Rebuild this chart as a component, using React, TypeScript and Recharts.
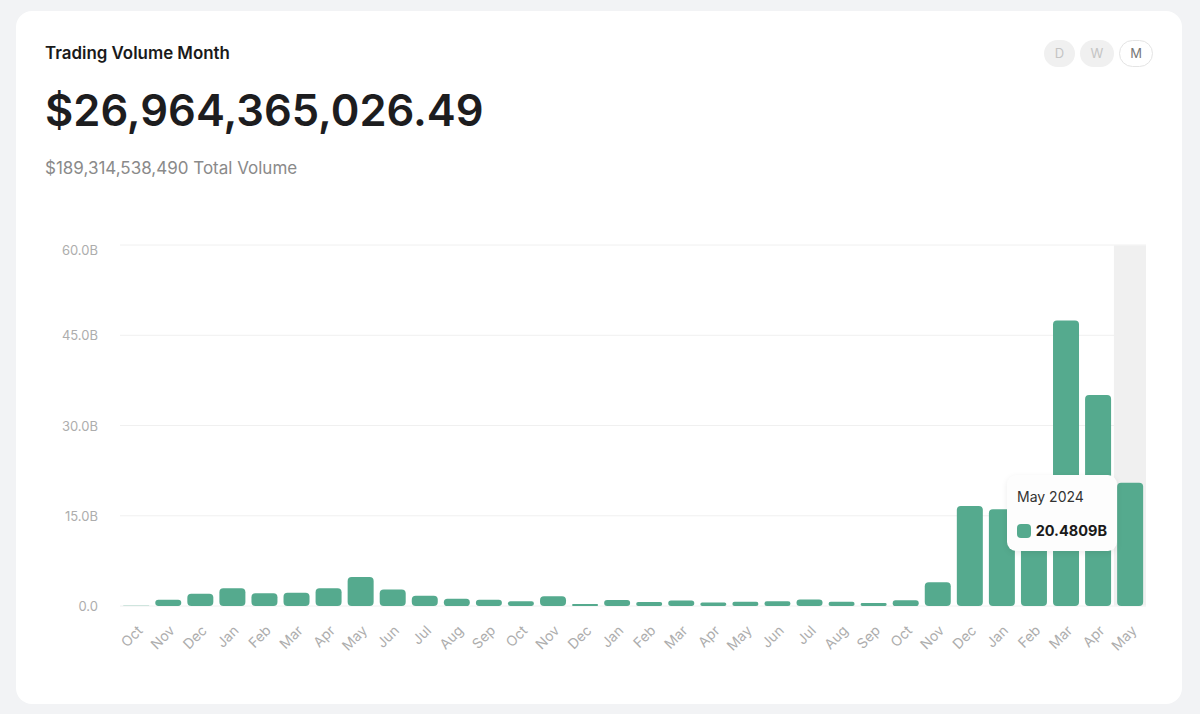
import React from "react";
import { BarChart, Bar, XAxis, YAxis, CartesianGrid, Tooltip } from "recharts";

const months = ["Oct","Nov","Dec","Jan","Feb","Mar","Apr","May","Jun","Jul","Aug","Sep","Oct","Nov","Dec","Jan","Feb","Mar","Apr","May","Jun","Jul","Aug","Sep","Oct","Nov","Dec","Jan","Feb","Mar","Apr","May"];
const years = [2021,2021,2021,2022,2022,2022,2022,2022,2022,2022,2022,2022,2022,2022,2022,2023,2023,2023,2023,2023,2023,2023,2023,2023,2023,2023,2023,2024,2024,2024,2024,2024];
const volumes = [0.05,1.05,2.05,2.95,2.1,2.2,2.95,4.8,2.75,1.7,1.2,1.05,0.8,1.6,0.35,1.0,0.65,0.9,0.6,0.7,0.78,1.1,0.7,0.48,0.95,3.95,16.6,16.06,16.1,47.45,35.05,20.4809];
const yTicks = [0,15,30,45,60];
const ranges = ["D","W","M"];

const data = months.map((m,i)=>({ period:`${m} ${years[i]}`, volume:volumes[i] }));
const FONT = "Inter, sans-serif";
const GREEN = "#55aa8e";

function YTick(props:any){
  const {x,y,payload} = props;
  const dy = payload.value === 60 ? 5 : 0;
  return <text x={x} y={y+dy} dy={5} textAnchor="end" fontFamily={FONT} fontSize={13} fill="#adadad">{payload.value.toFixed(1)+(payload.value===0?"":"B")}</text>;
}
function XTick(props:any){
  const {x,y,payload} = props;
  const ax = x+7.5, ay = y+17.5;
  return <text x={ax} y={ay} textAnchor="end" transform={`rotate(-45 ${ax} ${ay})`} fontFamily={FONT} fontSize={14} fill="#adadad">{String(payload.value).split(" ")[0]}</text>;
}
function Tip({active,payload}:any){
  if(!active||!payload||!payload.length) return null;
  const d = payload[0].payload;
  return <div style={{width:110,height:76,boxSizing:"border-box",background:"#fdfdfd",borderRadius:9,boxShadow:"0 2px 6px rgba(0,0,0,0.08)",padding:"13px 10px",fontFamily:FONT}}>
    <div style={{fontSize:14,lineHeight:"17px",color:"#333"}}>{d.period}</div>
    <div style={{display:"flex",alignItems:"center",marginTop:17}}>
      <span style={{width:14,height:14,borderRadius:4,background:GREEN,marginRight:5}}/>
      <span style={{fontSize:14.5,fontWeight:700,color:"#1a1a1a"}}>{d.volume.toFixed(4)}B</span>
    </div>
  </div>;
}

export default function App(){
  return <div style={{position:"absolute",left:0,top:0,width:1200,height:714,background:"#f2f3f5",overflow:"hidden",fontFamily:FONT}}>
    <div style={{position:"absolute",left:16,top:11,width:1166,height:693,background:"#fff",borderRadius:16}}/>
    <div style={{position:"absolute",left:45,top:43,fontSize:16.9,lineHeight:"20px",fontWeight:600,color:"#1a1a1a"}}>Trading Volume Month</div>
    <div style={{position:"absolute",left:45,top:82,fontSize:43.5,lineHeight:"56px",fontWeight:600,color:"#1d1d1f"}}>$26,964,365,026.49</div>
    <div style={{position:"absolute",left:45,top:158,fontSize:17,lineHeight:"21px",color:"#8a8a8a"}}>$189,314,538,490 Total Volume</div>
    {ranges.map((r,i)=>{
      const sel = r==="M";
      return <div key={r} style={{position:"absolute",left:[1044,1080,1119][i],top:40,width:[31,34,34][i],height:27,boxSizing:"border-box",borderRadius:14,background:sel?"#fff":"#f0f0f0",border:sel?"1px solid #e4e4e4":"none",color:sel?"#777":"#c4c4c4",fontSize:13,lineHeight:sel?"25px":"27px",textAlign:"center"}}>{r}</div>;
    })}
    <div style={{position:"absolute",left:0,top:0}}>
      <BarChart width={1200} height={714} data={data} margin={{top:245,right:54,bottom:58,left:60}} barCategoryGap="10%">
        <CartesianGrid horizontal vertical={false} stroke="#f0f0f0"/>
        <XAxis dataKey="period" interval={0} axisLine={false} tickLine={false} height={50} tick={<XTick/>}/>
        <YAxis domain={[0,60]} ticks={yTicks} width={60} axisLine={false} tickLine={false} tickSize={0} tickMargin={22} tick={<YTick/>}/>
        <Tooltip defaultIndex={31} content={<Tip/>} position={{x:1007,y:475}} cursor={{fill:"#f0f0f0"}} isAnimationActive={false} wrapperStyle={{outline:"none"}}/>
        <Bar dataKey="volume" fill={GREEN} radius={4} isAnimationActive={false}/>
      </BarChart>
    </div>
  </div>;
}
